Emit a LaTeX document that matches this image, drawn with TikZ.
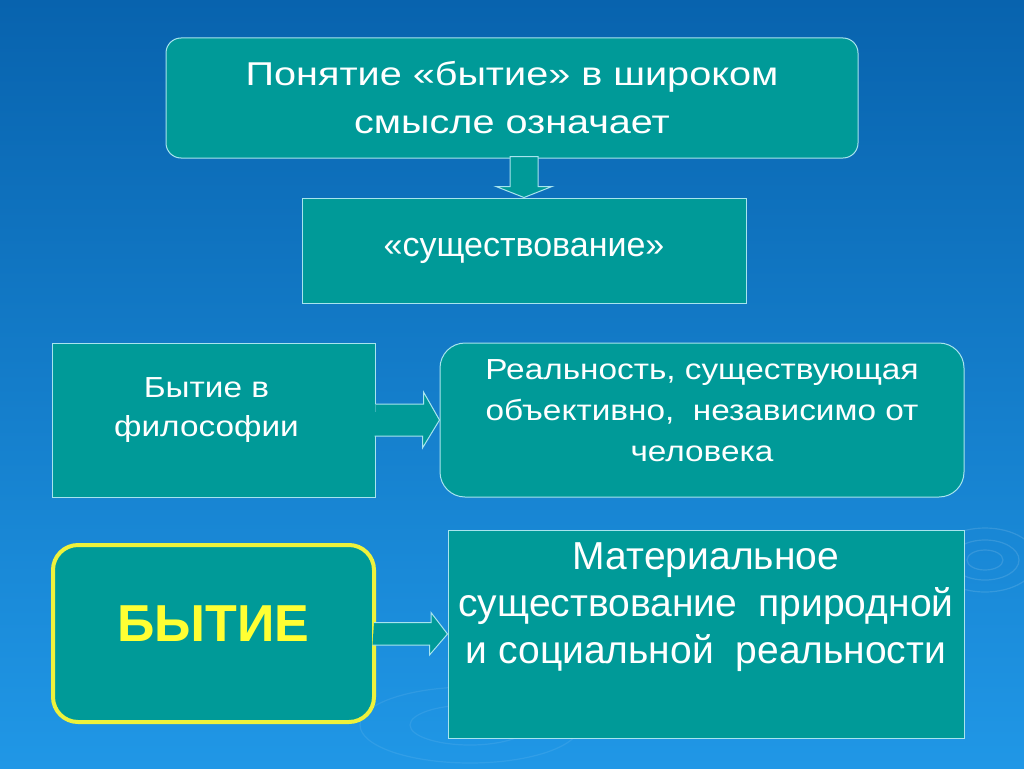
\documentclass[tikz,border=0pt]{standalone}
\usepackage{fontspec}
\setmainfont{Liberation Sans}
\newfontfamily\widefont[FakeStretch=1.2]{Liberation Sans}
\newfontfamily\midfont[FakeStretch=1.15]{Liberation Sans}
\definecolor{bgtop}{HTML}{0863AE}
\definecolor{bgmid}{HTML}{0C6EBE}
\definecolor{bgbot}{HTML}{2097E6}
\definecolor{tealbox}{HTML}{009A98}
\definecolor{edge}{HTML}{A8E4EE}
\definecolor{yedge}{HTML}{EEF23C}
\definecolor{ytext}{HTML}{FFFF33}

\begin{document}
\begin{tikzpicture}[x=1pt,y=-1pt]
\tikzstyle{box}=[rectangle,draw=edge,fill=tealbox,line width=1pt,text=white,align=center,font=\fontsize{28}{41}\selectfont]
\tikzstyle{rbox}[15pt]=[box,rounded corners=#1]
\tikzstyle{lbl}=[text=white,align=center,font=\midfont\fontsize{29}{41}\selectfont]
\tikzstyle{barrow}=[draw=edge,fill=tealbox,line width=1pt]

% background
\fill[top color=bgtop,middle color=bgmid,bottom color=bgbot] (0,0) rectangle (1024,768);
\useasboundingbox (0,0) rectangle (1024,768);
\draw[white,opacity=.12,line width=1.2pt] (985,560) ellipse (18 and 10) (985,560) ellipse (34 and 20) (985,560) ellipse (52 and 32);
\draw[white,opacity=.08,line width=1.2pt] (470,725) ellipse (60 and 20) (470,725) ellipse (110 and 38);

\node[rbox,minimum width=692pt,minimum height=120pt,font=\widefont\fontsize{33}{48}\selectfont] (wide) at (512,98) {Понятие «бытие» в широком\\смысле означает};
\node[box,minimum width=444pt,minimum height=105pt,font=\fontsize{34}{40}\selectfont] (exist) at (524,250.5) {«существование»};

\node[box,minimum width=323pt,minimum height=154pt,label={[lbl,yshift=10pt,xshift=-7pt,font=\midfont\fontsize{29}{39}\selectfont]center:Бытие в\\философии}] (phil) at (213.5,420) {};
\node[rbox=25pt,minimum width=524pt,minimum height=154pt,label={[lbl,yshift=9pt]center:Реальность, существующая\\объективно, \ независимо от\\человека}] (real) at (702,420) {};

\node[rbox=25pt,draw=yedge,line width=4pt,minimum width=321pt,minimum height=177pt,text=ytext,text depth=20pt,font=\fontsize{52}{60}\selectfont\bfseries] (being) at (213.5,633.5) {БЫТИЕ};
\node[box,minimum width=516pt,minimum height=208pt,label={[lbl,yshift=27pt,font=\fontsize{39}{47}\selectfont]center:Материальное\\существование \ природной\\и социальной \ реальности}] (matter) at (706,634) {};

% block arrows
\draw[barrow] (exist.north) -- ++(28,-11) -- ++(-14,0) -- ++(0,-30) -- ++(-28,0) -- ++(0,30) -- ++(-14,0) -- cycle;
\draw[barrow] (phil.east) ++(0,-16) -- ++(48,0) -- ++(0,-12) -- (real.west) -- ++(-17,28) -- ++(0,-12) -- ++(-48,0);
\draw[barrow] (being.east) ++(-2,-11) -- ++(57,0) -- ++(0,-10) -- (matter.west) -- ++(-18,21) -- ++(0,-10) -- ++(-57,0);

\end{tikzpicture}
\end{document}
